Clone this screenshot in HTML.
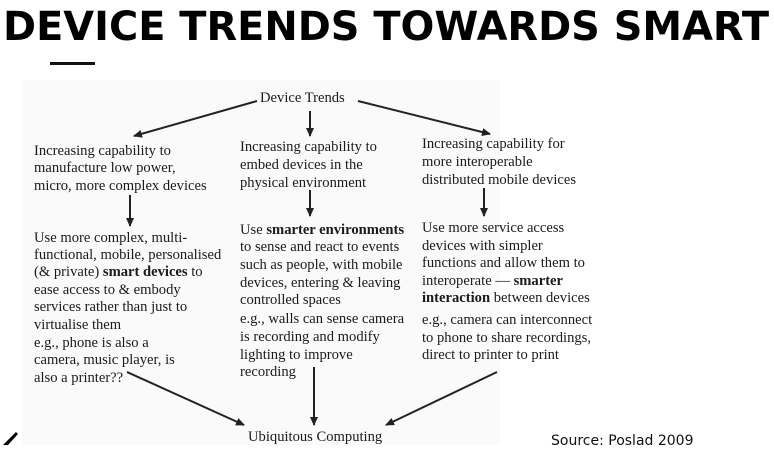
<!DOCTYPE html>
<html><head><meta charset="utf-8"><style>
html,body{margin:0;padding:0;background:#fff;width:774px;height:456px;overflow:hidden}
svg{display:block}
.t{font-family:"Liberation Serif",serif;font-size:14.6px;fill:#1a1a1a}
</style></head><body>
<svg width="774" height="456" viewBox="0 0 774 456">
<defs><marker id="ah" markerWidth="10" markerHeight="10" refX="8" refY="5" orient="auto" markerUnits="userSpaceOnUse"><path d="M0,1 L9,5 L0,9 Z" fill="#222"/></marker></defs>
<rect x="22" y="80" width="478" height="365" fill="#fafafa"/>
<text x="386" y="40" text-anchor="middle" textLength="766" lengthAdjust="spacingAndGlyphs" font-family="DejaVu Sans, sans-serif" font-weight="bold" font-size="40" fill="#000">DEVICE TRENDS TOWARDS SMART</text>
<rect x="50" y="62" width="45" height="3" fill="#111"/>
<text class="t" x="260" y="102" font-size="16.5">Device Trends</text>
<g stroke="#222" stroke-width="2" fill="none" marker-end="url(#ah)">
<line x1="257" y1="101" x2="134" y2="136"/>
<line x1="358" y1="101" x2="490" y2="134"/>
<line x1="310" y1="111" x2="310" y2="136"/>
<line x1="130" y1="195" x2="130" y2="226"/>
<line x1="310" y1="190" x2="310" y2="216"/>
<line x1="484" y1="188" x2="484" y2="216"/>
<line x1="127" y1="372" x2="244" y2="425"/>
<line x1="314" y1="367" x2="314" y2="425"/>
<line x1="497" y1="372" x2="386" y2="425"/>
</g>
<g class="t">
<text x="34" y="155">Increasing capability to</text>
<text x="34" y="172">manufacture low power,</text>
<text x="34" y="190">micro, more complex devices</text>
</g>
<g class="t">
<text x="240" y="151">Increasing capability to</text>
<text x="240" y="169">embed devices in the</text>
<text x="240" y="187">physical environment</text>
</g>
<g class="t">
<text x="422" y="148">Increasing capability for</text>
<text x="422" y="166">more interoperable</text>
<text x="422" y="184">distributed mobile devices</text>
</g>
<g class="t">
<text x="34" y="242">Use more complex, multi-</text>
<text x="34" y="259">functional, mobile, personalised</text>
<text x="34" y="276">(&amp; private) <tspan font-weight="bold">smart devices</tspan> to</text>
<text x="34" y="294">ease access to &amp; embody</text>
<text x="34" y="311">services rather than just to</text>
<text x="34" y="329">virtualise them</text>
<text x="34" y="347">e.g., phone is also a</text>
<text x="34" y="364">camera, music player, is</text>
<text x="34" y="382">also a printer??</text>
</g>
<g class="t">
<text x="240" y="234">Use <tspan font-weight="bold">smarter environments</tspan></text>
<text x="240" y="251">to sense and react to events</text>
<text x="240" y="269">such as people, with mobile</text>
<text x="240" y="287">devices, entering &amp; leaving</text>
<text x="240" y="304">controlled spaces</text>
<text x="240" y="323">e.g., walls can sense camera</text>
<text x="240" y="341">is recording and modify</text>
<text x="240" y="359">lighting to improve</text>
<text x="240" y="376">recording</text>
</g>
<g class="t">
<text x="422" y="232">Use more service access</text>
<text x="422" y="250">devices with simpler</text>
<text x="422" y="267">functions and allow them to</text>
<text x="422" y="285">interoperate — <tspan font-weight="bold">smarter</tspan></text>
<text x="422" y="302"><tspan font-weight="bold">interaction</tspan> between devices</text>
<text x="422" y="324">e.g., camera can interconnect</text>
<text x="422" y="342">to phone to share recordings,</text>
<text x="422" y="359">direct to printer to print</text>
</g>
<text class="t" x="248" y="441" font-size="15">Ubiquitous Computing</text>
<text x="551" y="445" font-family="DejaVu Sans, sans-serif" font-size="14" fill="#111">Source: Poslad 2009</text>
<path d="M3,445 L16,432 L18,434 L8,445 Z" fill="#000"/>
</svg>
</body></html>
